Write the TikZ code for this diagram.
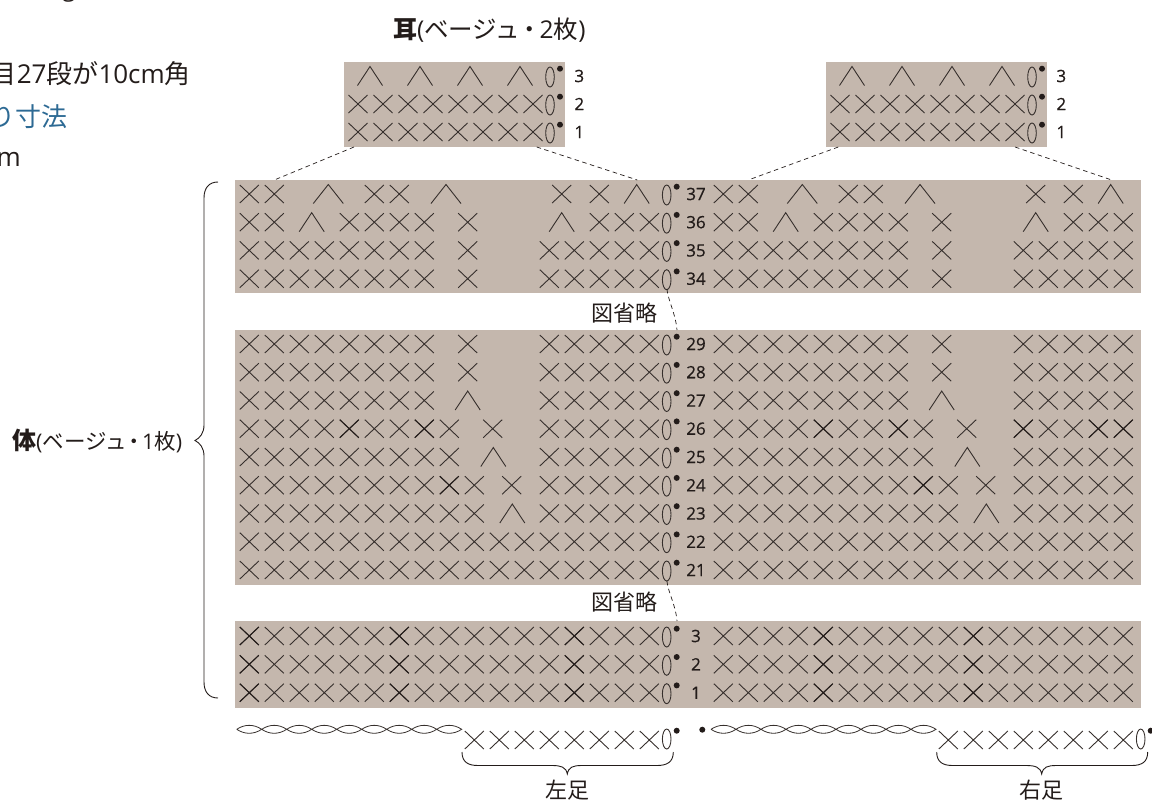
\documentclass[tikz,border=0pt]{standalone}
\usepackage{fontspec}
\setmainfont{Open Sans}
\newfontfamily\jpf{Noto Sans CJK JP}
\newfontfamily\numf[FakeBold=0.6]{Open Sans}
\definecolor{swatch}{RGB}{196,183,173}
\definecolor{ink}{RGB}{35,28,26}
\definecolor{bluetxt}{RGB}{45,106,148}
\newcommand\stX[3][]{\draw[stitch,#1] (#2-9.5,#3-9) -- (#2+9.5,#3+9) (#2-9.5,#3+9) -- (#2+9.5,#3-9);}
\newcommand\stV[3][12.5]{\draw[stitch] (#2-#1,#3+9.5) -- (#2,#3-9.5) -- (#2+#1,#3+9.5);}
% columns of body: x = 249.3 + 25 i + offset
\newcommand\colsX[3]{\foreach \i in {#3}{\pgfmathsetmacro\px{249.3+25*\i+#1}\stX{\px}{#2}}}
\newcommand\stO[2]{\draw[stitch] (#1,#2+1) ellipse [x radius=4.3,y radius=10];\fill[ink] (#1+10,#2-7.3) circle (3);}
\newcommand\stChain[2]{\foreach \k in {0,...,8}{\pgfmathsetmacro\cx{#1+25*\k}\draw[stitch,line width=0.8pt] (\cx,#2) .. controls (\cx+8,#2-5.3) and (\cx+17,#2-5.3) .. (\cx+25,#2) .. controls (\cx+17,#2+5.3) and (\cx+8,#2+5.3) .. (\cx,#2);}}
\newcommand\bodyrows[1]{%
 % row 37
 \colsX{#1}{194}{0,1,5,6}
 \stV[15]{328.3+#1}{194}\stV[15]{446+#1}{194}
 \stX{561.7+#1}{194}\stX{599.3+#1}{194}\stV[12.5]{636.7+#1}{194}
 % row 36
 \colsX{#1}{222.2}{0,1,4,5,6,7}
 \stV{311.7+#1}{222.2}\stX{467.7+#1}{222.2}\stV{561.7+#1}{222.2}
 \colsX{#1}{222.2}{14,15,16}
 % rows 35 34 29 28
 \foreach \ry in {250.4,278.7,344,372.2}{
  \colsX{#1}{\ry}{0,...,7,12,13,14,15,16}\stX{467.7+#1}{\ry}}
 % row 27
 \colsX{#1}{400.5}{0,...,7,12,13,14,15,16}\stV{467.7+#1}{400.5}
 % row 26
 \colsX{#1}{428.7}{0,...,8,12,13,14,15,16}\stX{492.7+#1}{428.7}
 % row 25
 \colsX{#1}{457}{0,...,8,12,13,14,15,16}\stV{493.3+#1}{457}
 % row 24
 \colsX{#1}{485.2}{0,...,9,12,13,14,15,16}\stX{511.7+#1}{485.2}
 % row 23
 \colsX{#1}{513.5}{0,...,9,12,13,14,15,16}\stV{512.3+#1}{513.5}
 % rows 22 21 3 2 1
 \foreach \ry in {541.7,570,636,664.3,692.7}{\colsX{#1}{\ry}{0,...,16}}
}
\newcommand\earswatch[1]{%
 \fill[swatch] (344+#1,62) rectangle (565+#1,146.7);
 \foreach \i in {0,1,2,3}{\pgfmathsetmacro\px{370+50*\i+#1}\stV{\px}{76}}
 \foreach \ry in {104,132}{\foreach \i in {0,...,7}{\pgfmathsetmacro\px{358+25*\i+#1}\stX{\px}{\ry}}}
 \foreach \ry in {76,104,132}{\stO{550+#1}{\ry}}
 \foreach \ry/\t in {76/3,104/2,132/1}{\node[rownum] at (579.3+#1,\ry) {\t};}
}
\tikzset{
 stitch/.style={draw=ink!88!swatch,line width=0.9pt},
 stitchdark/.style={draw=ink,line width=1pt},
 rownum/.style={font=\numf\fontsize{17}{17}\selectfont,text=ink,inner sep=0pt,anchor=center},
 jptext/.style={font=\jpf\fontsize{22}{22}\selectfont,text=ink,inner sep=0pt},
 lead/.style={draw=ink,line width=0.7pt,dash pattern=on 4.5pt off 3.5pt},
 bracket/.style={draw=ink,line width=0.9pt}
}
\begin{document}
\begin{tikzpicture}[x=1pt,y=-1pt]
\useasboundingbox (0,0) rectangle (1152,801);
% top-left cropped text
\node[inner sep=0pt,anchor=base east,text=ink,font=\fontsize{26}{26}\selectfont] (gauge) at (191,83) {{\jpf 目}27{\jpf 段が}10cm{\jpf 角}};
\node[inner sep=0pt,anchor=base east,text=bluetxt,font=\jpf\fontsize{26}{26}\selectfont] (finish) at (68,126) {り寸法};
\node[inner sep=0pt,anchor=base east,text=ink,font=\fontsize{26}{26}\selectfont] (cm) at (21,166) {m};
\node[inner sep=0pt,anchor=base,text=ink,font=\fontsize{24}{24}\selectfont] (topg) at (69,-3.5) {g};
% swatches
\earswatch{0}
\earswatch{482}
\fill[swatch] (235,180) rectangle (1141,292.6);
\fill[swatch] (235,330) rectangle (1141,585);
\fill[swatch] (235,621) rectangle (1141,707.7);
\bodyrows{0}
\bodyrows{474}
% darker stitches
\foreach \i/\ry in {4/428.7,7/428.7,8/485.2,0/636,6/636,13/636,0/664.3,6/664.3,13/664.3,0/692.7,6/692.7,13/692.7}{\pgfmathsetmacro\px{249.3+25*\i}\stX[stitchdark]{\px}{\ry}}
\foreach \i/\ry in {4/428.7,7/428.7,12/428.7,15/428.7,16/428.7,8/485.2,4/636,10/636,4/664.3,10/664.3,4/692.7,10/692.7}{\pgfmathsetmacro\px{723.3+25*\i}\stX[stitchdark]{\px}{\ry}}
% ovals, dots, numbers
\foreach \ry/\t in {194/37,222.2/36,250.4/35,278.7/34,344/29,372.2/28,400.5/27,428.7/26,457/25,485.2/24,513.5/23,541.7/22,570/21,636/3,664.3/2,692.7/1}{
 \stO{666.7}{\ry}
 \node[rownum] at (696,\ry) {\t};
}
% dashed leads
\coordinate (sa) at (354,147); \coordinate (sb) at (274.3,180);
\coordinate (sc) at (536.7,147); \coordinate (sd) at (637.3,180);
\coordinate (se) at (838.3,147); \coordinate (sf) at (748.3,180);
\coordinate (sg) at (1015,147); \coordinate (sh) at (1111.7,180);
\draw[lead] (sa) -- (sb);
\draw[lead] (sc) -- (sd);
\draw[lead] (se) -- (sf);
\draw[lead] (sg) -- (sh);
\coordinate (oa) at (666.9,289); \coordinate (ob) at (677,330);
\coordinate (oc) at (666.9,581); \coordinate (od) at (677,621);
\draw[lead] (oa) .. controls (668,300) and (676,315) .. (ob);
\draw[lead] (oc) .. controls (668,592) and (676,606) .. (od);
% labels
\node[jptext] (omit1) at (624.7,313) {図省略};
\node[jptext] (omit2) at (624.7,602) {図省略};
% foot row
\stChain{236.7}{729.3}
\stChain{711}{729.3}
\foreach \i in {0,...,7}{\pgfmathsetmacro\px{474.3+25*\i}\stX{\px}{740}\pgfmathsetmacro\pxb{948.3+25*\i}\stX{\pxb}{740}}
\stO{666.7}{738}
\stO{1140.7}{738}
\fill[ink] (702.3,729.7) circle (3);
% braces
\draw[bracket] (462,752) .. controls (462,762) and (468,765.5) .. (478,765.5) -- (552,765.5) .. controls (561,765.5) and (566,767) .. (567.3,774) .. controls (568.6,767) and (573,765.5) .. (582,765.5) -- (657,765.5) .. controls (667,765.5) and (673.3,762) .. (673.3,752);
\draw[bracket] (936.7,752) .. controls (936.7,762) and (942.7,765.5) .. (952.7,765.5) -- (1026,765.5) .. controls (1035,765.5) and (1040.4,767) .. (1041.7,774) .. controls (1043,767) and (1047.4,765.5) .. (1056.4,765.5) -- (1131.7,765.5) .. controls (1141.7,765.5) and (1147.7,762) .. (1147.7,752);
\draw[bracket] (218,182) .. controls (209,182) and (204,188) .. (204,198) -- (204,425) .. controls (204,433) and (200,438) .. (195,440.5) .. controls (200,443) and (204,448) .. (204,456) -- (204,682) .. controls (204,692) and (209,698) .. (218,698);
\node[jptext] (lf) at (567.5,790) {左足};
\node[jptext] (rf) at (1041.7,790) {右足};
% titles
\node[inner sep=0pt,anchor=base west,text=ink] (ear) at (393,38) {{\jpf\bfseries\fontsize{24}{24}\selectfont 耳}{\fontsize{24.5}{24.5}\selectfont(\jpf ベージュ\kern-2.5pt・\kern-2.5pt{\rmfamily 2}枚{\rmfamily )}}};
\node[inner sep=0pt,anchor=base west,text=ink] (body) at (12,449) {{\jpf\bfseries\fontsize{24}{24}\selectfont 体}{\fontsize{21.5}{21.5}\selectfont(\jpf ベージュ\kern-3pt・\kern-3pt{\rmfamily 1}枚{\rmfamily )}}};
\end{tikzpicture}
\end{document}
